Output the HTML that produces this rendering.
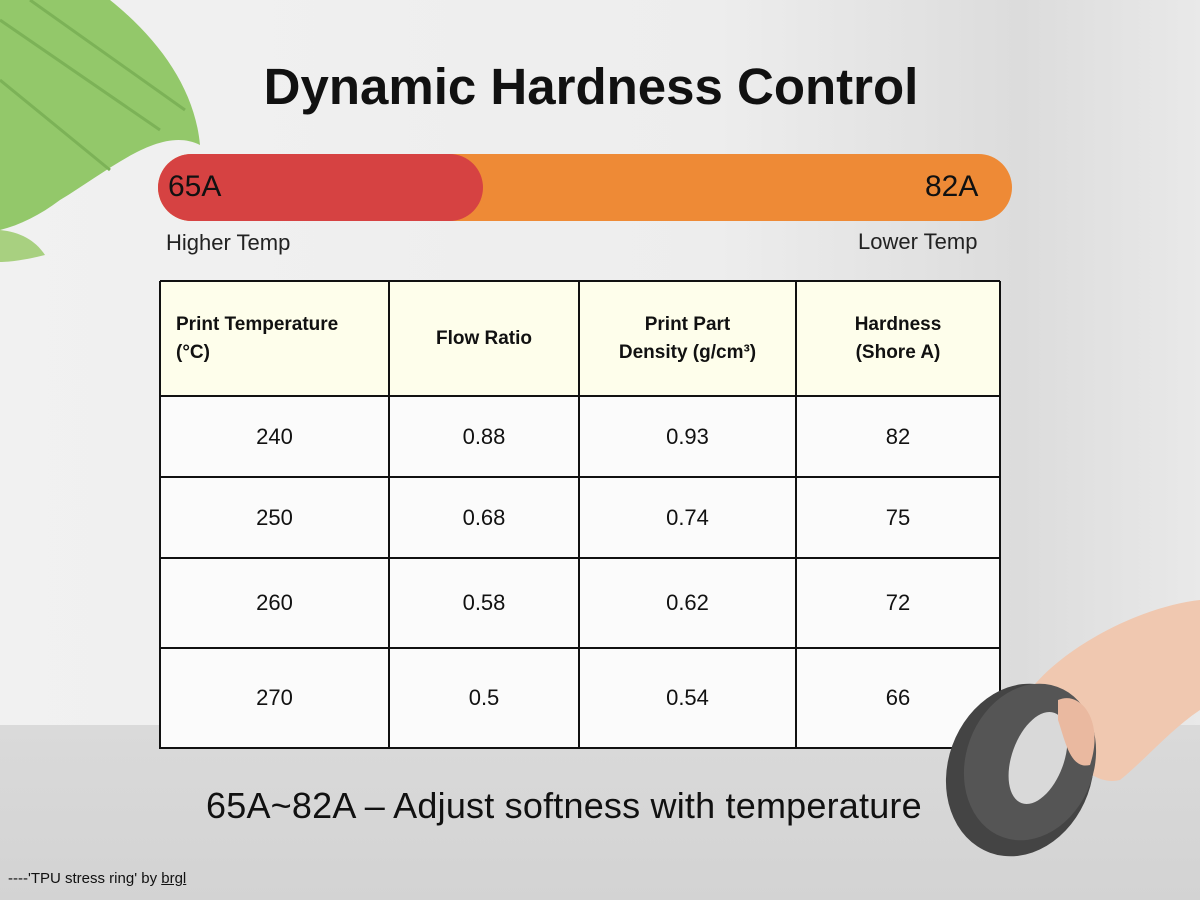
<!DOCTYPE html>
<html><head><meta charset="utf-8"><style>
body{margin:0;width:1200px;height:900px;overflow:hidden;font-family:"Liberation Sans",sans-serif;}
#bg{position:absolute;left:0;top:0;width:1200px;height:900px;background:linear-gradient(90deg,#f1f1f1 0%,#ededed 60%,#dcdcdc 85%,#e9e9e9 100%);}
#floor{position:absolute;left:0;top:725px;width:1200px;height:175px;background:linear-gradient(180deg,#dadada,#d3d3d3);}
.abs{position:absolute;}
.cell{position:absolute;display:flex;align-items:center;justify-content:center;text-align:center;font-size:22px;color:#111;box-sizing:border-box;}
.hd{font-weight:bold;font-size:19px;line-height:28px;}
.vl{position:absolute;background:#111;width:2px;top:281px;height:468px;}
.hl{position:absolute;background:#111;height:2px;left:160px;width:840px;}
</style></head><body>
<div id="bg"></div>
<div id="floor"></div>
<svg class="abs" style="left:0;top:0" width="240" height="280">
<path d="M0,0 L110,0 C160,40 195,90 200,145 C160,125 110,170 60,200 C40,215 20,225 0,230 Z" fill="#93c86a"/>
<path d="M0,20 L160,130 M30,0 L185,110 M0,80 L110,170" stroke="#7cb257" stroke-width="3" fill="none"/>
<path d="M0,230 C20,232 35,240 45,255 C25,260 10,262 0,262 Z" fill="#a8d080"/>
</svg>
<div class="abs" style="left:0;top:57px;width:1182px;text-align:center;font-size:51px;font-weight:bold;color:#111">Dynamic Hardness Control</div>
<div class="abs" style="left:158px;top:154px;width:854px;height:67px;border-radius:34px;background:#ee8a36"></div>
<div class="abs" style="left:158px;top:154px;width:325px;height:67px;border-radius:34px;background:#d64242"></div>
<div class="abs" style="left:168px;top:170px;font-size:30px;color:#111">65A</div>
<div class="abs" style="left:925px;top:170px;font-size:30px;color:#111">82A</div>
<div class="abs" style="left:166px;top:230px;font-size:22px;color:#222">Higher Temp</div>
<div class="abs" style="left:858px;top:229px;font-size:22px;color:#222">Lower Temp</div>
<div class="abs" style="left:160px;top:281px;width:840px;height:115px;background:#fefeeb"></div>
<div class="abs" style="left:160px;top:396px;width:840px;height:352px;background:#fbfbfb"></div>
<div id="tbl"></div>
<svg class="abs" style="left:930px;top:590px" width="270" height="280">
<path d="M100,100 C140,50 220,15 270,10 L270,120 C240,140 215,170 190,190 C170,195 150,180 140,160 Z" fill="#f0c8b0"/>
<ellipse cx="90" cy="180" rx="72" ry="88" fill="#444" transform="rotate(20 90 180)"/>
<ellipse cx="100" cy="172" rx="64" ry="80" fill="#555" transform="rotate(20 100 172)"/>
<ellipse cx="108" cy="168" rx="26" ry="48" fill="#d9d9d9" transform="rotate(20 108 168)"/>
<path d="M128,110 C150,100 175,130 160,175 C140,180 135,150 128,130 Z" fill="#eab9a0"/>
</svg>
<div class="abs" style="left:206px;top:785px;font-size:36px;letter-spacing:0.2px;color:#111">65A~82A – Adjust softness with temperature</div>
<div class="abs" style="left:8px;top:870px;font-size:15px;color:#111">----'TPU stress ring' by <u>brgl</u></div>
<script>
const headers=["Print Temperature<br>(°C)","Flow Ratio","Print Part<br>Density (g/cm³)","Hardness<br>(Shore A)"];
const temps=["240","250","260","270"];
const flow=["0.88","0.68","0.58","0.5"];
const density=["0.93","0.74","0.62","0.54"];
const hardness=["82","75","72","66"];
const colX=[160,389,579,796,1000];
const rowY=[281,396,477,558,648,748];
const t=document.getElementById('tbl');
function cell(x0,x1,y0,y1,html,cls,name){const d=document.createElement('div');d.className='cell '+cls;d.style.left=x0+'px';d.style.width=(x1-x0)+'px';d.style.top=y0+'px';d.style.height=(y1-y0)+'px';d.innerHTML=html;


t.appendChild(d);}
headers.forEach((h,i)=>{cell(colX[i],colX[i+1],rowY[0],rowY[1],h,'hd','header-cell');});
const first=t.children[0];first.style.justifyContent='flex-start';first.style.textAlign='left';first.style.paddingLeft='16px';
const cols=[temps,flow,density,hardness];
for(let r=0;r<temps.length;r++)for(let c=0;c<4;c++)cell(colX[c],colX[c+1],rowY[r+1],rowY[r+2],cols[c][r],'','data-cell');
colX.forEach(x=>{const l=document.createElement('div');l.className='vl';l.style.left=(x-1)+'px';


t.appendChild(l);});
rowY.forEach(y=>{const l=document.createElement('div');l.className='hl';l.style.top=(y-1)+'px';


t.appendChild(l);});
</script>
</body></html>
